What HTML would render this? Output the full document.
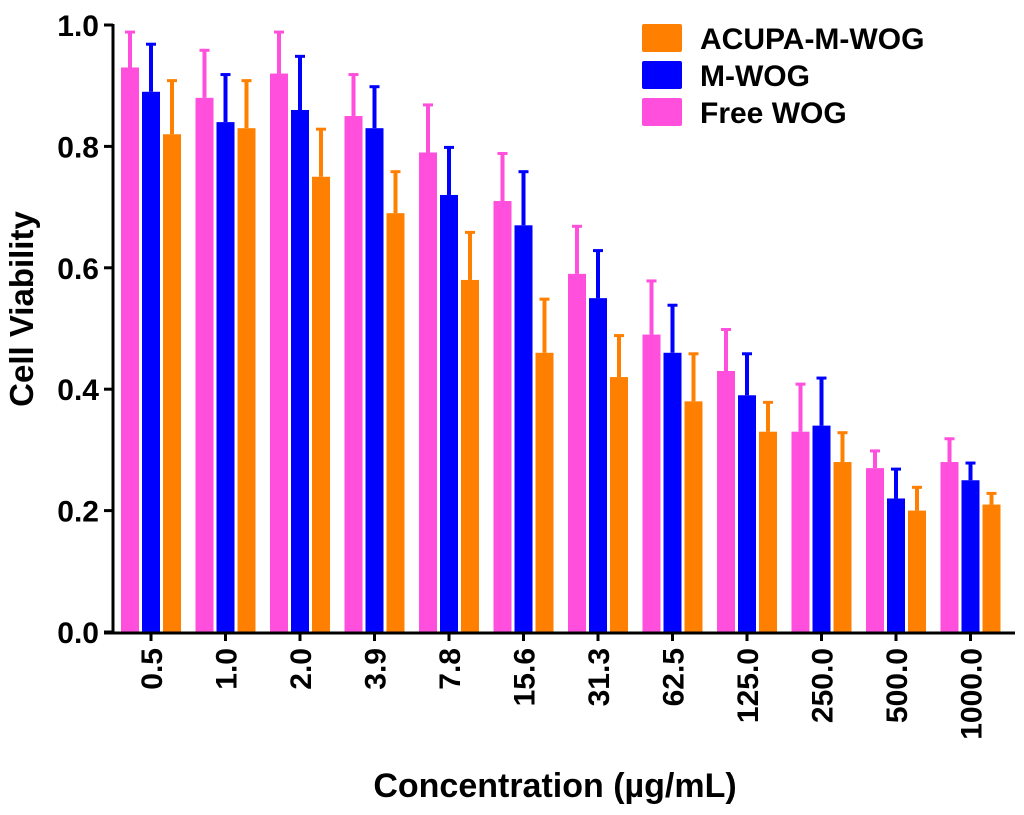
<!DOCTYPE html>
<html><head><meta charset="utf-8"><style>
html,body{margin:0;padding:0;background:#fff;}
svg text{font-family:"Liberation Sans",Arial,sans-serif;font-weight:bold;fill:#000;}
</style></head><body>
<svg id="chart" width="1024" height="810" xmlns="http://www.w3.org/2000/svg"></svg>
<script>
const categories=["0.5","1.0","2.0","3.9","7.8","15.6","31.3","62.5","125.0","250.0","500.0","1000.0"];
const freeWog=[0.93,0.88,0.92,0.85,0.79,0.71,0.59,0.49,0.43,0.33,0.27,0.28];
const freeWogErr=[0.06,0.08,0.07,0.07,0.08,0.08,0.08,0.09,0.07,0.08,0.03,0.04];
const mWog=[0.89,0.84,0.86,0.83,0.72,0.67,0.55,0.46,0.39,0.34,0.22,0.25];
const mWogErr=[0.08,0.08,0.09,0.07,0.08,0.09,0.08,0.08,0.07,0.08,0.05,0.03];
const acupa=[0.82,0.83,0.75,0.69,0.58,0.46,0.42,0.38,0.33,0.28,0.20,0.21];
const acupaErr=[0.09,0.08,0.08,0.07,0.08,0.09,0.07,0.08,0.05,0.05,0.04,0.02];
const yTicks=["0.0","0.2","0.4","0.6","0.8","1.0"];
const series=[
 {name:"free-wog",label:"Free WOG",vals:freeWog,err:freeWogErr,color:"#ff4fdc",off:-21},
 {name:"m-wog",label:"M-WOG",vals:mWog,err:mWogErr,color:"#0000ff",off:0},
 {name:"acupa-m-wog",label:"ACUPA-M-WOG",vals:acupa,err:acupaErr,color:"#ff8000",off:21}
];
const NS="http://www.w3.org/2000/svg";
const svg=document.getElementById('chart');
function y(v){return 632-v*607;}
function x(i){return 151+i*74.5;}
function el(t,a,p){const e=document.createElementNS(NS,t);for(const k in a)e.setAttribute(k,a[k]);(p||svg).appendChild(e);return e;}
const BW=18;
series.forEach(s=>{
 const g=el('g',{});
 
 
 s.vals.forEach((v,i)=>{
  const cx=x(i)+s.off;
  const top=y(v+s.err[i]);
  const l=el('line',{x1:cx,x2:cx,y1:y(v),y2:top,stroke:s.color,'stroke-width':4},g);
  
  
  const c=el('line',{x1:cx-5,x2:cx+5,y1:top+1,y2:top+1,stroke:s.color,'stroke-width':3},g);
  
  
  const r=el('rect',{x:cx-BW/2,y:y(v),width:BW,height:y(0)-y(v),fill:s.color},g);
  
  
 });
});
const ya=el('line',{x1:113,x2:113,y1:y(1)-1,y2:634,stroke:'#000','stroke-width':3});


const xa=el('line',{x1:104,x2:1015,y1:633,y2:633,stroke:'#000','stroke-width':3});


yTicks.forEach(t=>{
 const v=parseFloat(t);
 const tk=el('line',{x1:104,x2:113,y1:y(v),y2:y(v),stroke:'#000','stroke-width':3});
 
 
 const tx=el('text',{x:99,y:y(v)+11,'text-anchor':'end','font-size':30});
 tx.textContent=t;
 
 
});
categories.forEach((c,i)=>{
 const tk=el('line',{x1:x(i),x2:x(i),y1:633,y2:641,stroke:'#000','stroke-width':3});
 
 
 const tx=el('text',{x:0,y:0,'text-anchor':'end','font-size':30,transform:`translate(${x(i)+11},648) rotate(-90)`});
 tx.textContent=c;
 
 
});
const yt=el('text',{x:0,y:0,'text-anchor':'middle','font-size':33,transform:'translate(33,309) rotate(-90)'});
yt.textContent='Cell Viability';


const xt=el('text',{x:555,y:797,'text-anchor':'middle','font-size':34});
xt.textContent='Concentration (µg/mL)';


const leg=[series[2],series[1],series[0]];
leg.forEach((s,k)=>{
 const yy=38+k*37;
 const r=el('rect',{x:642,y:yy-14,width:40,height:28,rx:2,fill:s.color});
 
 
 const t=el('text',{x:700,y:yy+11,'font-size':30});
 t.textContent=s.label;
 
 
});
</script>
</body></html>
